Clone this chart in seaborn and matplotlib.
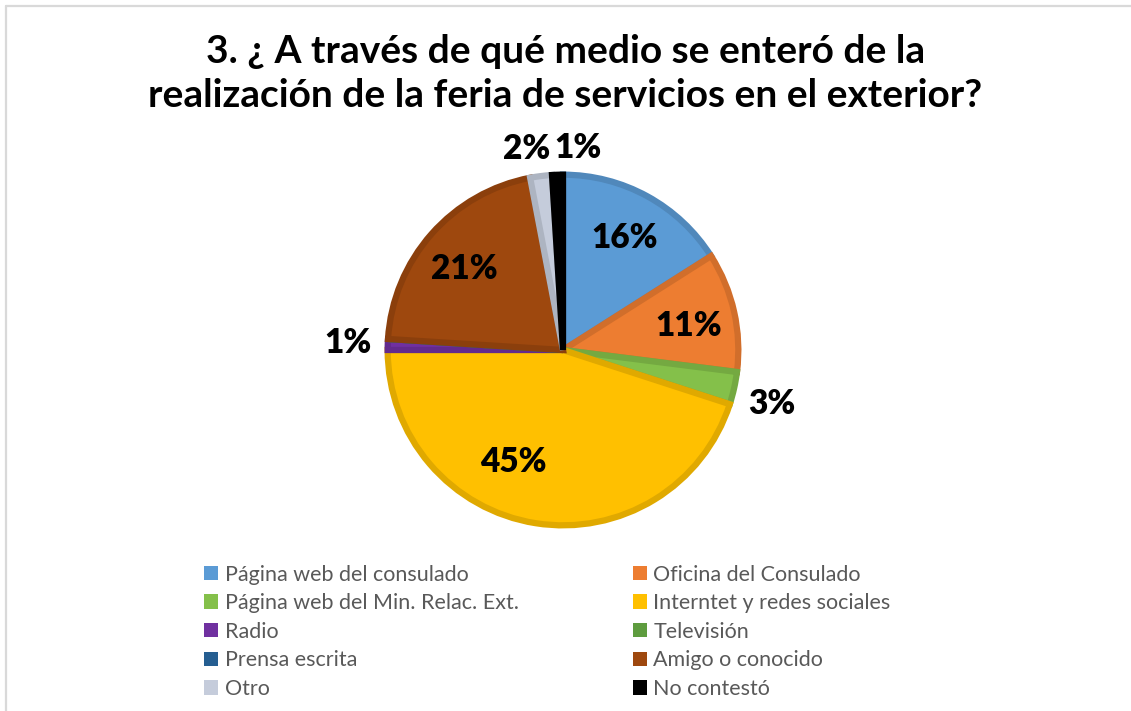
import matplotlib.pyplot as plt
import matplotlib.colors as mcolors
from matplotlib.patches import Patch
from matplotlib.lines import Line2D
import seaborn as sns
import numpy as np

# data
categories = ['Página web del consulado', 'Oficina del Consulado',
              'Página web del Min. Relac. Ext.', 'Interntet y redes sociales',
              'Radio', 'Televisión', 'Prensa escrita', 'Amigo o conocido',
              'Otro', 'No contestó']
values = [16, 11, 3, 45, 1, 0, 0, 21, 2, 1]
colors = ['#5B9BD5', '#ED7D31', '#84C04A', '#FFC000', '#7030A0',
          '#5E9C3F', '#255E91', '#9E480E', '#C5CCDB', '#000000']
title = '3. ¿ A través de qué medio se enteró de la\nrealización de la feria de servicios en el exterior?'

# label radius (fraction of pie radius) and angle nudge (deg) per slice
label_r = [0.72, 0.72, 1.21, 0.69, 1.21, 1.2, 1.2, 0.72, 1.15, 1.14]
label_nudge = [0, -2, -2, -15, 0, 0, 0, 2, 3, -6]

sns.set_style('white')
plt.rcParams['font.family'] = ['Lato', 'DejaVu Sans']

fig = plt.figure(figsize=(11.31, 7.11), dpi=100)

# chart frame (top and left edge visible)
fig.add_artist(Line2D([6 / 1131, 1], [1 - 6 / 711] * 2, color='#D9D9D9', lw=1.6))
fig.add_artist(Line2D([6 / 1131] * 2, [0, 1 - 6 / 711], color='#D9D9D9', lw=1.6))

fig.text(0.5, 0.897, title, ha='center', va='center', fontsize=28,
         fontweight='bold', linespacing=1.32, color='black')

# pie axes: center (563, 350) px, radius 178 px
ax = fig.add_axes([(563 - 178) / 1131, (711 - 350 - 178) / 711, 356 / 1131, 356 / 711])
edge = [mcolors.to_hex([c * 0.88 for c in mcolors.to_rgb(col)]) for col in colors]
wedges, _ = ax.pie(values, colors=colors, startangle=90, counterclock=False,
                   radius=0.985, wedgeprops=dict(linewidth=0))
for w, e in zip(wedges, edge):
    w.set_edgecolor(e)
    w.set_linewidth(4.5)
    w.set_joinstyle('miter')

# percentage labels
for w, v, r, n in zip(wedges, values, label_r, label_nudge):
    if v == 0:
        continue
    ang = np.deg2rad((w.theta1 + w.theta2) / 2 + n)
    ax.text(r * np.cos(ang), r * np.sin(ang), f'{v}%', ha='center', va='center',
            fontsize=24, fontweight='heavy', color='black')

ax.set_xlim(-1, 1)
ax.set_ylim(-1, 1)
ax.set_aspect('equal')
ax.axis('off')

# legend, row-wise order in two columns
order = [0, 2, 4, 6, 8, 1, 3, 5, 7, 9]
handles = [Patch(facecolor=colors[i], edgecolor='none') for i in order]
labels = [categories[i] for i in order]
fig.legend(handles, labels, ncol=2, loc='upper left', bbox_to_anchor=(0.173, 0.218),
           frameon=False, fontsize=15.5, labelcolor='#595959', handlelength=0.65,
           handleheight=0.65, handletextpad=0.3, columnspacing=5.3,
           labelspacing=0.4, borderaxespad=0)

fig.savefig('out.png', dpi=100, facecolor='white')
